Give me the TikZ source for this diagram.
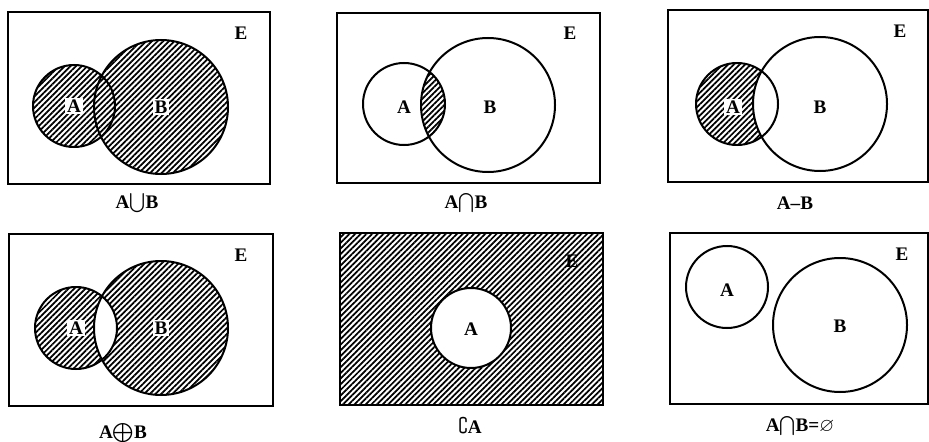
\documentclass[tikz,border=0pt]{standalone}
\usepackage{amssymb}
\usepackage{fontspec}
\setmainfont{Liberation Serif}
\usetikzlibrary{patterns.meta}

\tikzset{
  frame/.style={line width=1.5pt},
  set/.style={line width=1.2pt},
  hatch/.style={pattern={Lines[angle=45,distance=2.4pt,line width=1.05pt]}},
  lbl/.style={font=\fontsize{11.5}{13}\selectfont\bfseries, inner sep=1pt},
  tag/.style={lbl, fill=white},
  subtitle/.style={font=\fontsize{11.5}{13}\selectfont\bfseries, inner sep=1pt}
}

\begin{document}
\begin{tikzpicture}[x=0.6pt,y=0.6pt,yscale=-1]
  \useasboundingbox (0,0) rectangle (929,442);

  % --- Union ---
  \coordinate (a1) at (74,106);
  \coordinate (b1) at (161,107);
  \fill[hatch] (a1) circle[radius=41] (b1) circle[radius=67];
  \draw[set] (a1) circle[radius=41] (b1) circle[radius=67];
  \draw[frame] (8,12) rectangle (270,184);
  \node[lbl] (e1) at (241,33) {E};
  \node[tag] (la1) at (a1) {A};
  \node[tag] (lb1) at (b1) {B};
  \node[subtitle] (c1) at (137,203) {A$\bigcup$B};

  % --- Intersection ---
  \coordinate (a2) at (404,104);
  \coordinate (b2) at (488,105);
  \begin{scope}
    \clip (a2) circle[radius=41];
    \fill[hatch] (b2) circle[radius=67];
  \end{scope}
  \draw[set] (a2) circle[radius=41] (b2) circle[radius=67];
  \draw[frame] (337,13) rectangle (600,183);
  \node[lbl] (e2) at (570,33) {E};
  \node[lbl] (la2) at (404,107) {A};
  \node[lbl] (lb2) at (490,107) {B};
  \node[subtitle] (c2) at (466,203) {A$\bigcap$B};

  % --- Difference ---
  \coordinate (a3) at (737,104);
  \coordinate (b3) at (820,104);
  \fill[hatch] (a3) circle[radius=41];
  \begin{scope}
    \clip (a3) circle[radius=41];
    \fill[white] (b3) circle[radius=67];
  \end{scope}
  \draw[set] (a3) circle[radius=41] (b3) circle[radius=67];
  \draw[frame] (668,10) rectangle (928,182);
  \node[lbl] (e3) at (900,31) {E};
  \node[tag] (la3) at (733,107) {A};
  \node[lbl] (lb3) at (820,107) {B};
  \node[subtitle] (c3) at (795,203) {A--B};

  % --- Symmetric difference ---
  \coordinate (a4) at (76,328);
  \coordinate (b4) at (161,328);
  \fill[hatch, even odd rule] (a4) circle[radius=41] (b4) circle[radius=67];
  \draw[set] (a4) circle[radius=41] (b4) circle[radius=67];
  \draw[frame] (9,234) rectangle (273,406);
  \node[lbl] (e4) at (241,255) {E};
  \node[tag] (la4) at (a4) {A};
  \node[tag] (lb4) at (b4) {B};
  \node[subtitle] (c4) at (123,433) {A$\bigoplus$B};

  % --- Complement ---
  \coordinate (a5) at (471,328);
  \fill[hatch] (340,233) rectangle (603,405);
  \fill[white] (a5) circle[radius=40];
  \draw[set] (a5) circle[radius=40];
  \draw[frame] (340,233) rectangle (603,405);
  \node[lbl] (e5) at (572,261) {E};
  \node[lbl] (la5) at (471,329) {A};
  \node[subtitle] (c5) at (470,426) {$\complement$A};

  % --- Disjoint ---
  \coordinate (a6) at (727,287);
  \coordinate (b6) at (840,325);
  \draw[set] (a6) circle[radius=41] (b6) circle[radius=67];
  \draw[frame] (670,233) rectangle (928,404);
  \node[lbl] (e6) at (902,254) {E};
  \node[lbl] (la6) at (727,290) {A};
  \node[lbl] (lb6) at (840,326) {B};
  \node[subtitle] (c6) at (800,426) {A$\bigcap$B=$\varnothing$};
\end{tikzpicture}
\end{document}
